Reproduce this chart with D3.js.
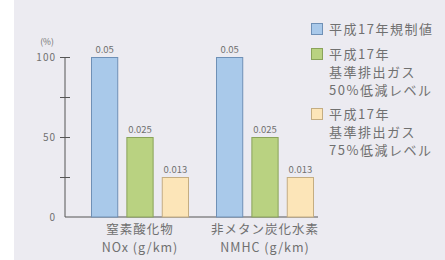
<!DOCTYPE html>
<html>
<head>
<meta charset="utf-8">
<script src="https://cdn.jsdelivr.net/npm/d3@7"></script>
<style>
  body { margin: 0; background: #fff; }
  svg text { font-family: "Noto Sans CJK JP", "Noto Sans", sans-serif; fill: #707070; }
</style>
</head>
<body>
<svg id="chart"></svg>
<script>
const W = 445, H = 260;

const categories = ["NOx", "NMHC"];
const categoryLines = [["窒素酸化物", "NOx (g/km)"], ["非メタン炭化水素", "NMHC (g/km)"]];
const series = ["limit", "half", "quarter"];
const seriesValues = [100, 50, 25];
const valueLabels = ["0.05", "0.025", "0.013"];
const yTicks = [0, 25, 50, 75, 100];
const yLabels = [0, 50, 100];
const legendLines = [
  ["平成17年規制値"],
  ["平成17年", "基準排出ガス", "50%低減レベル"],
  ["平成17年", "基準排出ガス", "75%低減レベル"]
];
const fills = ["#a9c9ea", "#b9d281", "#fce5b8"];
const strokes = ["#6f90b6", "#8aa35a", "#c4ad82"];

const svg = d3.select("#chart").attr("width", W).attr("height", H);

// background (white strip on the left like the scan)
svg.append("rect").attr("x", 14).attr("y", 0).attr("width", W - 14).attr("height", H).attr("fill", "#ecebf1");

const y = d3.scaleLinear().domain([0, 100]).range([217, 57]);
const x0 = d3.scaleBand().domain(categories).range([77.5, 327.5]).paddingInner(0.216).paddingOuter(0.108);
const x1 = d3.scaleBand().domain(series).range([0, x0.bandwidth()]).paddingInner(0.23);

// y axis
const yAxis = svg.append("g")
  .attr("transform", "translate(65,0)")
  .call(d3.axisLeft(y).tickValues(yTicks).tickSize(5)
    .tickFormat(d => yLabels.includes(d) ? d : ""));
yAxis.select(".domain").attr("stroke", "#555").attr("d", "M0,57V217");
yAxis.selectAll(".tick line").attr("stroke", "#555").attr("x1", -5).attr("x2", 5)
  .filter(d => d === 0).remove();
yAxis.selectAll(".tick text")
  .attr("x", -9)
  .style("font-size", "10px")
  .style("letter-spacing", "1px")
  .attr("font-family", null);
svg.append("text").attr("x", 47).attr("y", 45).attr("text-anchor", "middle")
  .style("font-size", "8.5px").text("(%)");

// baseline
svg.append("line").attr("x1", 65).attr("x2", 318).attr("y1", y(0)).attr("y2", y(0))
  .attr("stroke", "#555").attr("stroke-width", 1);

// bars
const groups = svg.selectAll(".grp").data(categories).join("g")
  .attr("class", "grp")
  .attr("transform", d => `translate(${x0(d)},0)`);

groups.selectAll("rect").data(series.map((s, i) => ({ s, i })))
  .join("rect")
  .attr("x", d => x1(d.s) + 0.5)
  .attr("y", d => y(seriesValues[d.i]) + 0.5)
  .attr("width", x1.bandwidth() - 1)
  .attr("height", d => y(0) - y(seriesValues[d.i]) - 0.5)
  .attr("fill", d => fills[d.i])
  .attr("stroke", d => strokes[d.i]);

groups.selectAll(".val").data(series.map((s, i) => ({ s, i })))
  .join("text")
  .attr("class", "val")
  .attr("x", d => x1(d.s) + x1.bandwidth() / 2)
  .attr("y", d => y(seriesValues[d.i]) - 4)
  .attr("text-anchor", "middle")
  .style("font-size", "9.5px")
  .text(d => valueLabels[d.i]);

// category labels
categories.forEach((c, i) => {
  const cx = x0(c) + x0.bandwidth() / 2;
  categoryLines[i].forEach((t, j) => {
    svg.append("text").attr("x", cx).attr("y", 234 + j * 18)
      .attr("text-anchor", "middle")
      .style("font-size", "12.5px")
      .style("letter-spacing", "1px")
      .text(t);
  });
});

// legend
const legendTop = [23, 48, 108];
legendLines.forEach((lines, i) => {
  svg.append("rect").attr("x", 311.5).attr("y", legendTop[i] + 0.5)
    .attr("width", 11).attr("height", 11)
    .attr("fill", fills[i]).attr("stroke", strokes[i]);
  lines.forEach((t, j) => {
    svg.append("text").attr("x", 329).attr("y", legendTop[i] + 10.5 + j * 18)
      .style("font-size", "13px")
      .style("letter-spacing", "1.5px")
      .text(t);
  });
});
</script>
</body>
</html>
